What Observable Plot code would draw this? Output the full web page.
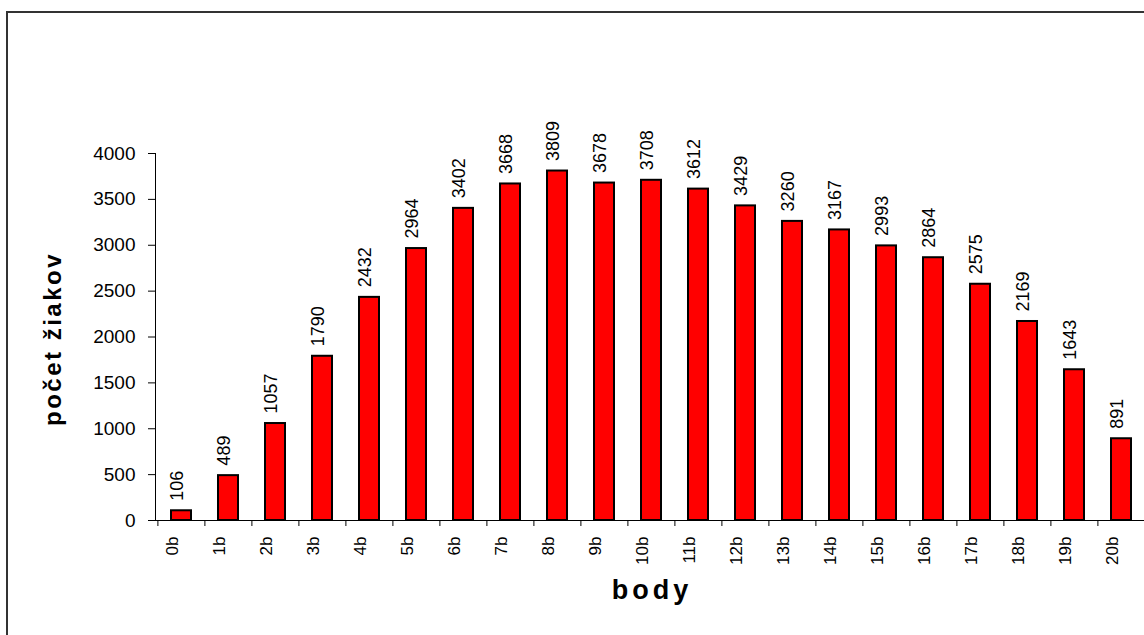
<!DOCTYPE html>
<html><head><meta charset="utf-8">
<script src="https://cdn.jsdelivr.net/npm/d3@7"></script>
<script src="https://cdn.jsdelivr.net/npm/@observablehq/plot@0.6"></script>
<style>
html,body{margin:0;padding:0;background:#fff;overflow:hidden;width:1144px;height:635px;}
#frame{position:absolute;left:6px;top:11px;width:1200px;height:700px;border:2px solid #333;box-sizing:border-box;}
#chart{position:absolute;left:0;top:0;}
</style></head><body><div id="frame"></div><div id="chart"></div>
<script>
const categories = ["0b","1b","2b","3b","4b","5b","6b","7b","8b","9b","10b","11b","12b","13b","14b","15b","16b","17b","18b","19b","20b"];
const counts = [106,489,1057,1790,2432,2964,3402,3668,3809,3678,3708,3612,3429,3260,3167,2993,2864,2575,2169,1643,891];
const yTicks = [0,500,1000,1500,2000,2500,3000,3500,4000];
const xTitle = "body";
const yTitle = "počet žiakov";

const data = categories.map((c,i)=>({cat:c, n:counts[i]}));
const font = "'Liberation Sans', Arial, sans-serif";
const xRange = [155,1146];
const step = (xRange[1]-xRange[0]) / categories.length;

const chart = Plot.plot({
  width:1144, height:635,
  marginTop:153, marginBottom:115, marginLeft:155, marginRight:0,
  style:{fontFamily:font, background:"transparent", color:"#000", overflow:"visible"},
  x:{domain:categories, range:xRange, paddingInner:0.58, paddingOuter:0.29},
  y:{domain:[0,4000], range:[520,153]},
  marks:[
    Plot.barY(data,{x:"cat", y:"n", fill:"#ff0000", stroke:"#000", strokeWidth:2}),
    Plot.ruleY([0],{stroke:"#000", strokeWidth:1}),
    Plot.frame({anchor:"left", stroke:"#000", strokeWidth:1}),
    Plot.axisY({ticks:yTicks, tickSize:7, tickPadding:13, fontSize:19, label:null, stroke:"#000", tickFormat:d=>String(d)}),
    Plot.axisX({tickSize:6, tickFormat:()=>"", label:null, dx:-step/2, stroke:"#000"}),
    Plot.text(categories,{x:d=>d, frameAnchor:"bottom", rotate:-90, textAnchor:"end", dy:16, dx:-4, fontSize:17, fill:"#000"}),
    Plot.text(data,{x:"cat", y:"n", text:d=>String(d.n), rotate:-90, textAnchor:"start", dy:-10, dx:-4, fontSize:18, fill:"#000"}),
    Plot.text([yTitle],{frameAnchor:"left", textAnchor:"middle", dx:-102, dy:2, rotate:-90, fontWeight:"bold", fontSize:24, fill:"#000"}),
    Plot.text([xTitle],{frameAnchor:"bottom", textAnchor:"middle", dy:78, dx:2, fontWeight:"bold", fontSize:27, fill:"#000"})
  ]
});
document.getElementById("chart").appendChild(chart);
d3.select(chart).selectAll("text").filter(function(){return this.textContent===xTitle;}).style("letter-spacing","4px");
d3.select(chart).selectAll("text").filter(function(){return this.textContent===yTitle;}).style("letter-spacing","2.5px");
</script></body></html>
